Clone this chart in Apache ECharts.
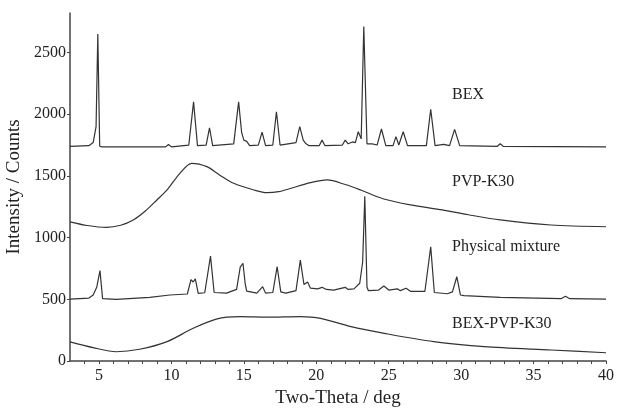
<!DOCTYPE html>
<html>
<head>
<meta charset="utf-8">
<script src="https://cdn.jsdelivr.net/npm/echarts@6/dist/echarts.min.js"></script>
<style>
  html, body { margin: 0; padding: 0; background: #fff; }
  #main { width: 617px; height: 408px; }
</style>
</head>
<body>
<div id="main"></div>
<script>
// diffraction patterns, [2theta, counts]
const bex = [
  [3, 1740], [4.3, 1745], [4.6, 1770], [4.8, 1900], [4.92, 2650], [5.05, 1740], [5.2, 1735],
  [9.6, 1735], [9.8, 1755], [10.0, 1735],
  [11.2, 1750], [11.53, 2100], [11.8, 1745],
  [12.4, 1750], [12.63, 1890], [12.85, 1745],
  [14.3, 1760], [14.64, 2100], [14.85, 1850], [15.0, 1790], [15.2, 1780], [15.4, 1745],
  [16.0, 1750], [16.26, 1855], [16.5, 1745],
  [17.0, 1750], [17.25, 2020], [17.5, 1750],
  [18.6, 1770], [18.86, 1900], [19.1, 1790], [19.25, 1765], [19.5, 1745],
  [20.2, 1745], [20.4, 1790], [20.6, 1745],
  [21.8, 1750], [22.0, 1790], [22.2, 1760], [22.5, 1775], [22.7, 1770], [22.9, 1858], [23.1, 1800],
  [23.28, 2710], [23.5, 1760], [23.86, 1760], [24.2, 1750], [24.5, 1880], [24.8, 1745],
  [25.3, 1745], [25.5, 1818], [25.7, 1750], [26.0, 1858], [26.3, 1745],
  [27.6, 1745], [27.9, 2040], [28.2, 1745],
  [28.8, 1755], [29.2, 1745], [29.55, 1877], [29.9, 1745],
  [32.5, 1740], [32.7, 1760], [32.9, 1740], [40, 1735]
];
const pvp = [
  [3, 1128], [4.2, 1098], [5.5, 1083], [6.5, 1100], [7.4, 1145], [8.2, 1215], [9.0, 1305],
  [9.7, 1386], [10.6, 1523], [11.4, 1602], [12.45, 1575], [13.3, 1510], [14.3, 1440],
  [15.7, 1386], [16.6, 1364], [17.4, 1372], [18.2, 1398], [19.6, 1445], [20.75, 1467],
  [22, 1430], [23.06, 1386], [24.6, 1315], [26.5, 1265], [28.7, 1224], [30.5, 1185],
  [32.7, 1143], [36.2, 1102], [40, 1088]
];
const mixture = [
  [3, 502], [4.3, 510], [4.6, 535], [4.85, 600], [5.07, 732], [5.25, 505], [6.2, 500],
  [8.5, 515], [9.9, 535], [11.1, 543], [11.35, 660], [11.5, 640], [11.65, 665], [11.85, 548],
  [12.3, 553], [12.7, 850], [12.95, 555], [13.8, 550], [14.5, 580], [14.75, 760], [14.94, 792],
  [15.1, 620], [15.2, 566], [15.9, 550], [16.3, 602], [16.5, 550], [17.0, 555], [17.3, 764],
  [17.55, 560], [17.9, 550], [18.6, 570], [18.9, 818], [19.15, 620], [19.4, 640], [19.6, 590],
  [20.1, 585], [20.4, 597], [20.7, 580], [21.2, 575], [22.0, 597], [22.2, 580], [22.6, 585],
  [23.0, 630], [23.2, 800], [23.35, 1335], [23.5, 600], [23.6, 570], [24.3, 575], [24.67, 608],
  [25.0, 575], [25.6, 585], [25.8, 570], [26.2, 590], [26.5, 565], [27.5, 565], [27.9, 926],
  [28.15, 555], [29.05, 545], [29.4, 560], [29.7, 683], [29.95, 535], [30.2, 530], [32.7, 516],
  [36.9, 505], [37.2, 525], [37.5, 505], [40, 502]
];
const dispersion = [
  [3, 155], [4.6, 108], [6.2, 75], [7.8, 95], [9.7, 157], [11.5, 265], [13.1, 340],
  [14.75, 359], [16.6, 355], [18.9, 360], [20.3, 346], [22.4, 278], [24.7, 224],
  [28.1, 157], [31.6, 116], [36.2, 89], [40, 67]
];

const xTicks = [5, 10, 15, 20, 25, 30, 35, 40];
const xMinorTicks = [4, 5, 6, 7, 8, 9, 10, 11, 12, 13, 14, 15, 16, 17, 18, 19, 20, 21, 22, 23, 24, 25, 26, 27, 28, 29, 30, 31, 32, 33, 34, 35, 36, 37, 38, 39, 40];
const yTicks = [0, 500, 1000, 1500, 2000, 2500];
const curveNames = ['BEX', 'PVP-K30', 'Physical mixture', 'BEX-PVP-K30'];

const font = '"Liberation Serif", "DejaVu Serif", serif';
const ink = '#333';

const chart = echarts.init(document.getElementById('main'));

function curve(name, data, smooth) {
  return {
    name: name,
    type: 'line',
    data: data,
    smooth: smooth,
    showSymbol: false,
    symbol: 'none',
    lineStyle: { color: ink, width: 1.2 }
  };
}

// text labels next to each curve
const labelTops = [87, 174, 239, 316];
const labels = curveNames.map((n, i) => ({
  type: 'text',
  left: 452,
  top: labelTops[i],
  style: { text: n, fill: '#222', font: '16px ' + font }
}));

chart.setOption({
  animation: false,
  backgroundColor: '#fff',
  grid: { left: 70, right: 11, top: 13, bottom: 47, outerBoundsMode: 'none' },
  xAxis: {
    type: 'value',
    min: 3,
    max: 40,
    name: 'Two-Theta / deg',
    nameLocation: 'middle',
    nameGap: 26,
    nameTextStyle: { fontFamily: font, fontSize: 19, color: '#222' },
    splitLine: { show: false },
    axisLine: { lineStyle: { color: '#444', width: 1.5 } },
    axisTick: { customValues: xMinorTicks, length: 3, lineStyle: { color: '#444' } },
    axisLabel: { customValues: xTicks, fontFamily: font, fontSize: 16, color: '#222', margin: 7 }
  },
  yAxis: {
    type: 'value',
    min: 0,
    max: 2820,
    name: 'Intensity / Counts',
    nameLocation: 'middle',
    nameGap: 37,
    nameTextStyle: { fontFamily: font, fontSize: 19, color: '#222' },
    splitLine: { show: false },
    axisLine: { show: true, lineStyle: { color: '#444', width: 1.5 } },
    axisTick: { show: true, customValues: yTicks, length: 3, lineStyle: { color: '#444' } },
    axisLabel: {
      customValues: yTicks, fontFamily: font, fontSize: 16, color: '#222', margin: 4,
      formatter: v => String(v)
    }
  },
  series: [
    curve(curveNames[0], bex, false),
    curve(curveNames[1], pvp, 0.3),
    curve(curveNames[2], mixture, false),
    curve(curveNames[3], dispersion, 0.3)
  ],
  graphic: labels
});
</script>
</body>
</html>
